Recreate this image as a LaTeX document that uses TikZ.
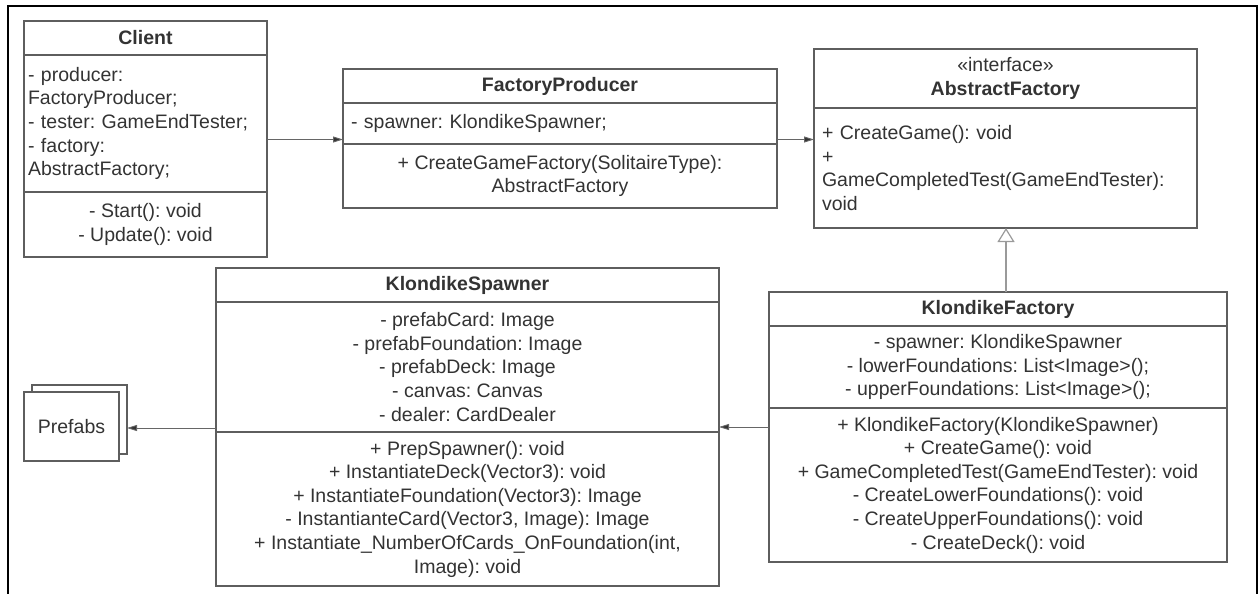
\documentclass[tikz,border=0pt]{standalone}
\usepackage{fontspec}
\setmainfont{Liberation Sans}
\usetikzlibrary{arrows.meta}
\frenchspacing
\definecolor{txt}{HTML}{333333}
\definecolor{boxline}{HTML}{5E5E5E}
\definecolor{conn}{HTML}{666666}
\definecolor{genline}{HTML}{9A9A9A}
\tikzset{
  cmp/.style={draw=boxline, line width=1.2pt, inner sep=0pt, outer sep=0pt,
    text=txt, font=\fontsize{19.5}{23.6}\selectfont\frenchspacing, align=center},
  cmpl/.style={cmp, align=left},
  ttl/.style={cmp, font=\fontsize{19.5}{23.6}\selectfont\bfseries},
  arr/.style={draw=conn, line width=0.9pt, -{Triangle[length=10pt,width=6pt,fill=txt]}},
  gen/.style={draw=genline, line width=1.2pt, -{Triangle[open,length=14pt,width=17pt,fill=white]}},
  frame/.style={draw=black, line width=2pt}
}
\begin{document}
\begin{tikzpicture}[x=1pt,y=-1pt]
\useasboundingbox (0,0) rectangle (1258,594);
\draw[frame] (8,600) -- (8,6) -- (1257,6) -- (1257,600);

% Client
\node[ttl, minimum width=243pt, minimum height=34pt] (clientH) at (145.5,38) {Client};
\node[cmpl, minimum width=243pt, minimum height=137pt, text width=235pt] (clientA) at (145.5,123.5)
  {- producer:\\FactoryProducer;\\- tester: GameEndTester;\\- factory:\\AbstractFactory;};
\node[cmp, minimum width=243pt, minimum height=65pt] (clientM) at (145.5,224.5)
  {- Start(): void\\- Update(): void};

% FactoryProducer
\node[ttl, minimum width=434pt, minimum height=34pt] (fpH) at (560,86) {FactoryProducer};
\node[cmpl, minimum width=434pt, minimum height=41pt, text width=418pt] (fpA) at (560,123.5)
  {- spawner: KlondikeSpawner;};
\node[cmp, minimum width=434pt, minimum height=64pt] (fpM) at (560,176)
  {+ CreateGameFactory(SolitaireType):\\AbstractFactory};

% AbstractFactory
\node[cmp, minimum width=383pt, minimum height=59pt] (afH) at (1005.5,78.5)
  {«interface»\\\textbf{AbstractFactory}};
\node[cmpl, minimum width=383pt, minimum height=120pt, text width=367pt] (afM) at (1005.5,168)
  {+ CreateGame(): void\\+\\GameCompletedTest(GameEndTester):\\void\\[4pt]};

% KlondikeSpawner
\node[ttl, minimum width=503pt, minimum height=34pt] (ksH) at (467.5,285) {KlondikeSpawner};
\node[cmp, minimum width=503pt, minimum height=130pt] (ksA) at (467.5,367)
  {- prefabCard: Image\\- prefabFoundation: Image\\- prefabDeck: Image\\- canvas: Canvas\\- dealer: CardDealer};
\node[cmp, minimum width=503pt, minimum height=154pt] (ksM) at (467.5,509)
  {+ PrepSpawner(): void\\+ InstantiateDeck(Vector3): void\\+ InstantiateFoundation(Vector3): Image\\- InstantianteCard(Vector3, Image): Image\\+ Instantiate\_NumberOfCards\_OnFoundation(int,\\Image): void};

% KlondikeFactory
\node[ttl, minimum width=458pt, minimum height=34pt] (kfH) at (998,309) {KlondikeFactory};
\node[cmp, minimum width=458pt, minimum height=82pt] (kfA) at (998,367)
  {- spawner: KlondikeSpawner\\- lowerFoundations: List<Image>();\\- upperFoundations: List<Image>();};
\node[cmp, minimum width=458pt, minimum height=154pt] (kfM) at (998,485)
  {+ KlondikeFactory(KlondikeSpawner)\\+ CreateGame(): void\\+ GameCompletedTest(GameEndTester): void\\- CreateLowerFoundations(): void\\- CreateUpperFoundations(): void\\- CreateDeck(): void};

% Prefabs (stacked)
\node[cmp, fill=white, minimum width=95pt, minimum height=69pt] (prefBack) at (79.5,419.5) {};
\node[cmp, fill=white, minimum width=95pt, minimum height=69pt] (prefFront) at (71.5,426.5) {Prefabs};

% connectors
\path ([yshift=4.5pt]fpA.south west) coordinate (fpIn);
\draw[arr] (clientA.east |- fpIn) -- (fpIn);
\draw[arr] (fpA.east |- fpIn) -- (afM.west |- fpIn);
\path ([yshift=5pt]ksM.north east) coordinate (ksIn);
\draw[arr] (kfM.west |- ksIn) -- (ksIn);
\path ([yshift=4pt]ksA.south west) coordinate (ksOut);
\draw[arr] (ksOut) -- (prefBack.east |- ksOut);
\path (kfH.north) ++(8,0) coordinate (genStart);
\draw[gen] (genStart) -- (genStart |- afM.south);
\end{tikzpicture}
\end{document}
